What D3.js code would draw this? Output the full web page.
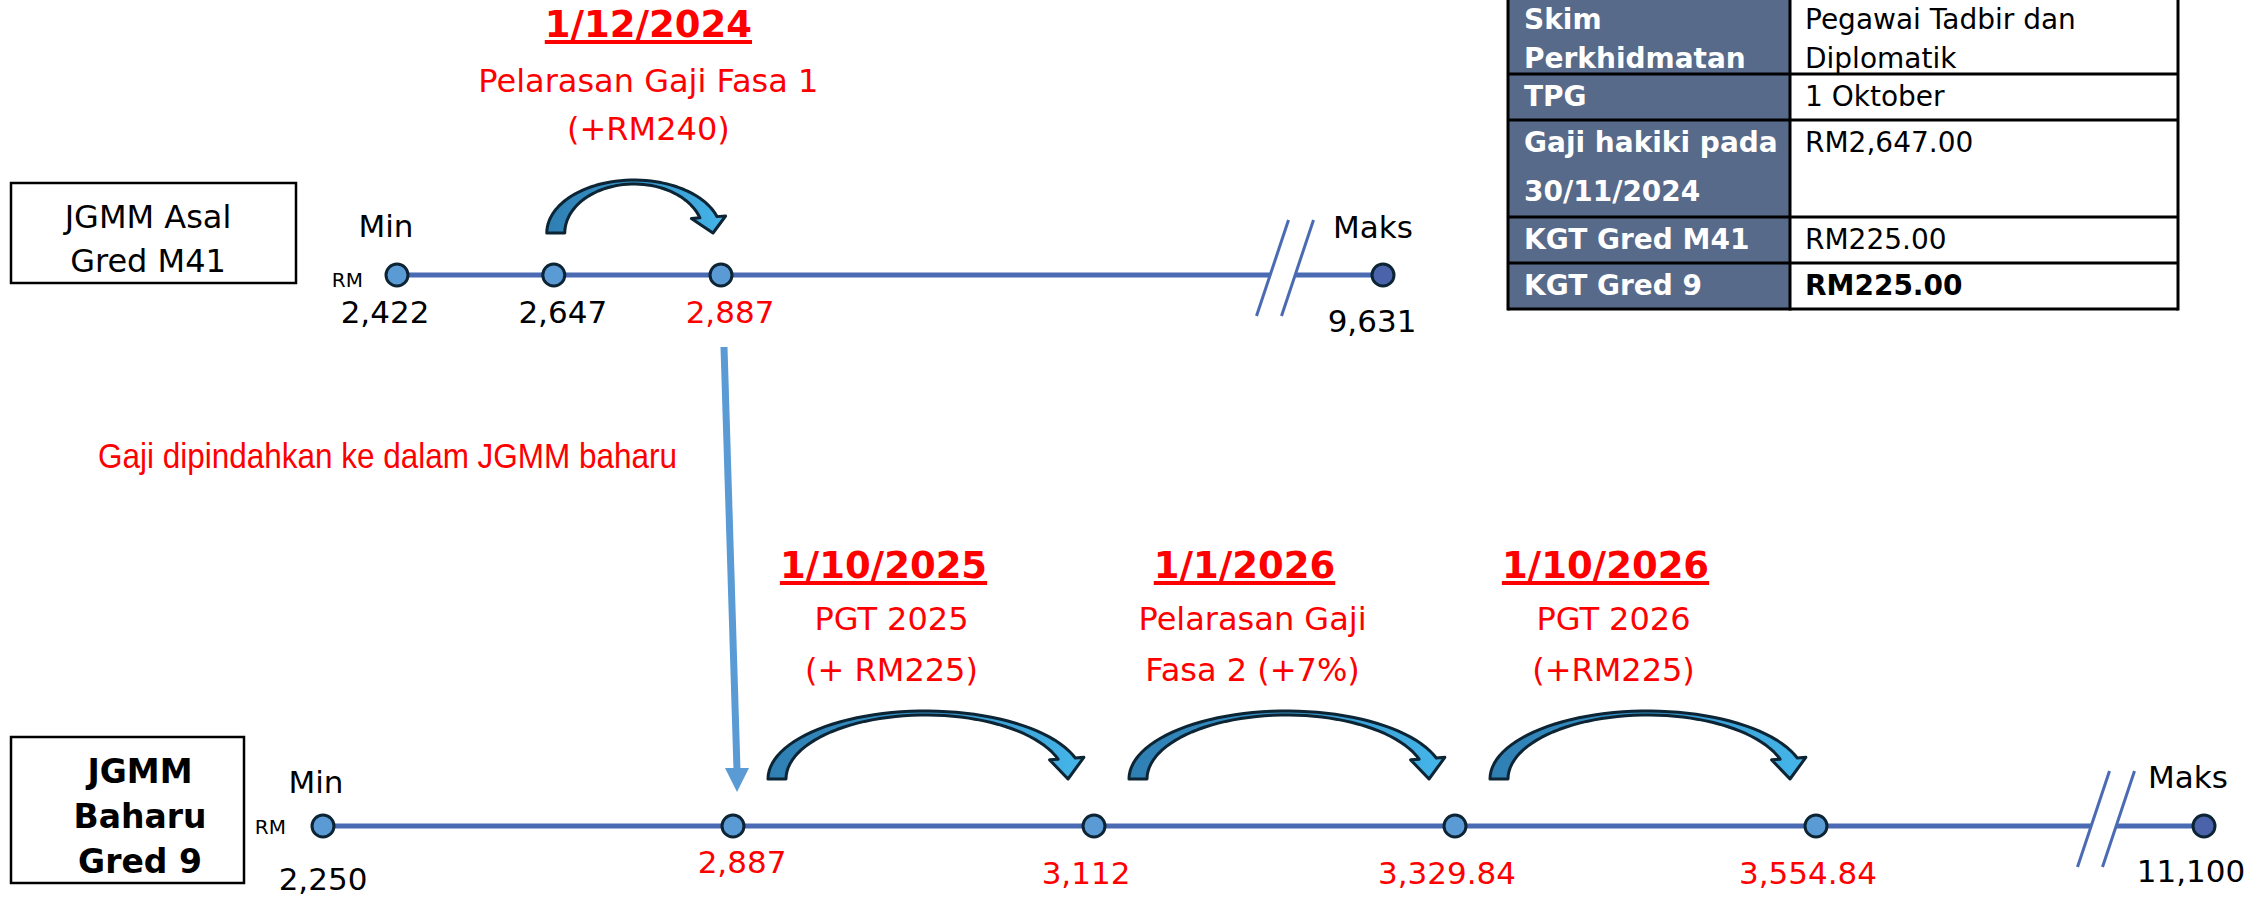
<!DOCTYPE html>
<html>
<head>
<meta charset="utf-8">
<script src="https://cdn.jsdelivr.net/npm/d3@7"></script>
<style>
  body { margin: 0; background: #fff; }
  svg { display: block; }
</style>
</head>
<body>
<svg id="chart"></svg>
<script>

// ---- data ----
var topSteps = [2422, 2647, 2887]
var topMax = 9631
var topRed = [2887]

var botMin = 2250
var botSteps = [2887, 3112, 3329.84, 3554.84]
var botMax = 11100

var topEvents = [
    { date: "1/12/2024", from: 2647, to: 2887, lines: ["Pelarasan Gaji Fasa 1", "(+RM240)"] }
]
var botEvents = [
    { date: "1/10/2025", lines: ["PGT 2025", "(+ RM225)"] },
    { date: "1/1/2026", lines: ["Pelarasan Gaji", "Fasa 2 (+7%)"] },
    { date: "1/10/2026", lines: ["PGT 2026", "(+RM225)"] }
]

var topBox = ["JGMM Asal", "Gred M41"]
var botBox = ["JGMM", "Baharu", "Gred 9"]
var transferText = "Gaji dipindahkan ke dalam JGMM baharu"

var tableHead = [["Skim", "Perkhidmatan"], ["TPG"], ["Gaji hakiki pada", "30/11/2024"], ["KGT Gred M41"], ["KGT Gred 9"]]
var tableBody = [["Pegawai Tadbir dan", "Diplomatik"], ["1 Oktober"], ["RM2,647.00"], ["RM225.00"], ["RM225.00"]]

// ---- layout ----
var W = 2267, H = 897
var FONT = "'DejaVu Sans', Verdana, sans-serif"
var RED = "#ff0000"
var LINE = "#4a6bb3"
var DOT = "#5b9bd5"
var DOT_MAX = "#4a63ab"
var DARK = "#0c2433"

var topY = 275
var botY = 826

var fmt = function(v){ return Number.isInteger(v) ? d3.format(",")(v) : d3.format(",.2f")(v) }

var svg = d3.select("#chart").attr("width", W).attr("height", H)

var defs = svg.append("defs")
var grad = defs.append("linearGradient").attr("id", "arrowFill")
    .attr("x1", 0).attr("x2", 1).attr("y1", 0).attr("y2", 0)
grad.append("stop").attr("offset", 0).attr("stop-color", "#2f7fb3")
grad.append("stop").attr("offset", 0.55).attr("stop-color", "#3796cc")
grad.append("stop").attr("offset", 1).attr("stop-color", "#45b6ea")

// scales
var xTop = d3.scaleLinear().domain([topSteps[0], topSteps[topSteps.length - 1]]).range([397, 721])
var xTopMax = 1383

var xBotMin = 323
var xBot = d3.scalePoint().domain(botSteps).range([733, 1816])
var xBotMax = 2204

function txt(g, x, y, s, opts) {
    opts = opts || {}
    return g.append("text")
        .attr("x", x).attr("y", y)
        .attr("text-anchor", opts.anchor || "middle")
        .attr("font-family", opts.family || FONT)
        .attr("font-size", opts.size || 31)
        .attr("font-weight", opts.bold ? "bold" : "normal")
        .attr("fill", opts.fill || "#000")
        .text(s)
}

function axisLine(g, x0, x1, y) {
    g.append("line").attr("x1", x0).attr("x2", x1).attr("y1", y).attr("y2", y)
        .attr("stroke", LINE).attr("stroke-width", 5)
    // break marks
    var bx = x1 - 98, gap = 25, hh = 48, sl = 16, cy = y - 7
    g.append("polygon")
        .attr("points", [[bx - gap/2 - sl, cy + hh], [bx - gap/2 + sl, cy - hh], [bx + gap/2 + sl, cy - hh], [bx + gap/2 - sl, cy + hh]].join(" "))
        .attr("fill", "#fff")
    ;[-gap/2, gap/2].forEach(function(d){
        g.append("line")
            .attr("x1", bx + d - sl).attr("y1", cy + hh)
            .attr("x2", bx + d + sl).attr("y2", cy - hh)
            .attr("stroke", LINE).attr("stroke-width", 3)
    })
}

function dot(g, x, y, fill) {
    g.append("circle").attr("cx", x).attr("cy", y).attr("r", 11)
        .attr("fill", fill).attr("stroke", DARK).attr("stroke-width", 3)
}

// thick curved arrow: wide at the left foot, thin over the top, head pointing down at the right
function curvedArrow(g, xs, xt, y0, h) {
    var w = xt - xs
    var cx = (xs + xt) / 2 + 0.025 * w
    var t0 = 18, tTop = 4
    var ao = cx - xs, bo = h, ai = ao - t0, bi = h - tTop
    var phiE = 18 * Math.PI / 180
    var N = 48
    var outer = d3.range(N + 1).map(function(k){
        var p = Math.PI - (Math.PI - phiE) * k / N
        return [cx + ao * Math.cos(p), y0 - bo * Math.sin(p)]
    })
    var inner = d3.range(N + 1).map(function(k){
        var p = Math.PI - (Math.PI - phiE) * k / N
        return [cx + ai * Math.cos(p), y0 - bi * Math.sin(p)]
    })
    var po = outer[N], pi = inner[N]
    var dx = po[0] - pi[0], dy = po[1] - pi[1]
    var ho = [po[0] + 0.5 * dx, po[1] + 0.5 * dy]
    var hi = [pi[0] - 0.5 * dx, pi[1] - 0.5 * dy]
    var pts = outer.concat([ho, [xt, y0], hi]).concat(inner.reverse())
    g.append("path")
        .attr("d", d3.line()(pts) + "Z")
        .attr("fill", "url(#arrowFill)")
        .attr("stroke", DARK).attr("stroke-width", 3)
        .attr("stroke-linejoin", "round")
}

function dateLabel(g, x, y, s) {
    var t = txt(g, x, y, s, { size: 37, bold: true, fill: RED })
    var len = t.node().getComputedTextLength()
    g.append("rect").attr("x", x - len / 2).attr("y", y + 3).attr("width", len).attr("height", 4).attr("fill", RED)
}

// ---- top line ----
var gTop = svg.append("g")
axisLine(gTop, xTop(topSteps[0]), xTopMax, topY)

// transfer arrow (drawn under dots)
var vx0 = xTop(2887) + 3, vx1 = xBot(2887) + 4
gTop.append("line").attr("x1", vx0).attr("y1", 347).attr("x2", vx1).attr("y2", 770)
    .attr("stroke", DOT).attr("stroke-width", 7)
gTop.append("polygon")
    .attr("points", [[vx1 - 12, 768], [vx1 + 12, 768], [vx1, 792]].join(" "))
    .attr("fill", DOT)

topSteps.forEach(function(v){
    dot(gTop, xTop(v), topY, DOT)
    txt(gTop, xTop(v) + (v === topSteps[0] ? -12 : 9), topY + 48, fmt(v), { fill: topRed.indexOf(v) >= 0 ? RED : "#000" })
})
dot(gTop, xTopMax, topY, DOT_MAX)
txt(gTop, xTopMax - 11, topY + 57, fmt(topMax))
txt(gTop, xTopMax - 10, topY - 37, "Maks")
txt(gTop, xTop(topSteps[0]) - 11, topY - 38, "Min")
txt(gTop, xTop(topSteps[0]) - 34, topY + 12, "RM", { size: 20, anchor: "end" })

topEvents.forEach(function(e){
    var a = xTop(e.from), b = xTop(e.to)
    curvedArrow(gTop, a - 7, b - 8, topY - 42, 53)
    var cx = (a + b) / 2 + 11
    dateLabel(gTop, cx, topY - 238, e.date)
    txt(gTop, cx, topY - 183, e.lines[0], { size: 32, fill: RED })
    txt(gTop, cx, topY - 135, e.lines[1], { size: 32, fill: RED })
})

// top box
svg.append("rect").attr("x", 11).attr("y", 183).attr("width", 285).attr("height", 100)
    .attr("fill", "none").attr("stroke", "#000").attr("stroke-width", 2.5)
topBox.forEach(function(s, i){
    txt(svg, 148, 228 + i * 44, s, { size: 32 })
})

// transfer text
svg.append("text").attr("x", 98).attr("y", 468)
    .attr("font-family", "'Liberation Sans Narrow', 'Liberation Sans', Arial, sans-serif")
    .attr("font-size", 35).attr("fill", RED)
    .attr("textLength", 579).attr("lengthAdjust", "spacingAndGlyphs")
    .text(transferText)

// ---- bottom line ----
var gBot = svg.append("g")
axisLine(gBot, xBotMin, xBotMax, botY)

dot(gBot, xBotMin, botY, DOT)
txt(gBot, xBotMin, botY + 64, fmt(botMin))
txt(gBot, xBotMin - 7, botY - 33, "Min")
txt(gBot, xBotMin - 37, botY + 8, "RM", { size: 20, anchor: "end" })

botSteps.forEach(function(v, i){
    dot(gBot, xBot(v), botY, DOT)
    txt(gBot, xBot(v) + (i === 0 ? 9 : -8), botY + (i === 0 ? 47 : 58), fmt(v), { fill: RED })
})
dot(gBot, xBotMax, botY, DOT_MAX)
txt(gBot, xBotMax - 13, botY + 56, fmt(botMax))
txt(gBot, xBotMax - 16, botY - 38, "Maks")

botEvents.forEach(function(e, i){
    var a = xBot(botSteps[i]), b = xBot(botSteps[i + 1])
    curvedArrow(gBot, a + 35, b - 26, botY - 47, 68)
    var cx = (a + b) / 2 - 30
    dateLabel(gBot, cx, botY - 248, e.date)
    txt(gBot, cx + 8, botY - 196, e.lines[0], { size: 32, fill: RED })
    txt(gBot, cx + 8, botY - 145, e.lines[1], { size: 32, fill: RED })
})

// bottom box
svg.append("rect").attr("x", 11).attr("y", 737).attr("width", 233).attr("height", 146)
    .attr("fill", "none").attr("stroke", "#000").attr("stroke-width", 2.5)
botBox.forEach(function(s, i){
    txt(svg, 140, 783 + i * 45, s, { size: 33, bold: true })
})

// ---- info table ----
var colX = [1508, 1790, 2178]
var rowY = [-3, 74, 120, 217, 263, 309]
var gTab = svg.append("g")
tableHead.forEach(function(lines, r){
    var y0 = rowY[r], h = rowY[r + 1] - rowY[r]
    gTab.append("rect").attr("x", colX[0]).attr("y", y0).attr("width", colX[1] - colX[0]).attr("height", h)
        .attr("fill", "#586a89")
    gTab.append("rect").attr("x", colX[1]).attr("y", y0).attr("width", colX[2] - colX[1]).attr("height", h)
        .attr("fill", "#fff")
    lines.forEach(function(s, i){
        txt(gTab, colX[0] + 16, y0 + 32 + i * h / lines.length, s, { size: 28, bold: true, fill: "#fff", anchor: "start" })
    })
    tableBody[r].forEach(function(s, i){
        txt(gTab, colX[1] + 15, y0 + 32 + i * h / tableBody[r].length, s, { size: 28, bold: r === tableHead.length - 1, anchor: "start" })
    })
})
rowY.forEach(function(y){
    gTab.append("line").attr("x1", colX[0]).attr("x2", colX[2]).attr("y1", y).attr("y2", y)
        .attr("stroke", "#000").attr("stroke-width", 3)
})
colX.forEach(function(x){
    gTab.append("line").attr("x1", x).attr("x2", x).attr("y1", rowY[0]).attr("y2", rowY[rowY.length - 1] + 1.5)
        .attr("stroke", "#000").attr("stroke-width", 3)
})

</script>
</body>
</html>
